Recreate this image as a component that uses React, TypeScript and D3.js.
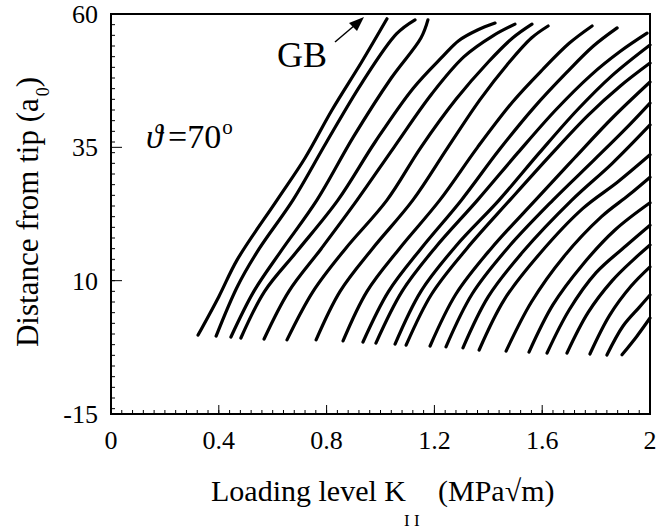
import React, { useRef, useEffect } from "react";
import * as d3 from "d3";

// crack front traces: [K_II (MPa√m), distance from tip (a0)]
const f01 = [[0.323, -0.2], [0.40, 7], [0.468, 13.9], [0.616, 25.1], [0.72, 33], [0.82, 42], [0.93, 51], [1.024, 59.1]];
const f02 = [[0.390, -0.4], [0.47, 9], [0.55, 16], [0.675, 25.1], [0.80, 36], [0.93, 47], [1.06, 56.3], [1.128, 58.9]];
const f03 = [[0.445, -0.56], [0.53, 8], [0.63, 15.5], [0.764, 25.1], [0.90, 37], [1.04, 48], [1.15, 55.5], [1.176, 58.9]];
const f04 = [[0.482, -0.75], [0.57, 8], [0.69, 15.5], [0.842, 25.1], [0.98, 36], [1.12, 46], [1.23, 52], [1.29, 55], [1.36, 57], [1.425, 58.3]];
const f05 = [[0.568, -0.94], [0.66, 8], [0.78, 16], [0.913, 25.1], [1.05, 35], [1.19, 45], [1.31, 52], [1.42, 56], [1.499, 58.1]];
const f06 = [[0.653, -1.1], [0.75, 8], [0.87, 16], [1.024, 25.1], [1.15, 35], [1.28, 44], [1.40, 51], [1.49, 55.5], [1.562, 58.1]];
const f07 = [[0.761, -1.1], [0.85, 8], [0.97, 16], [1.12, 25.1], [1.25, 35], [1.37, 44], [1.47, 50.5], [1.56, 55.5], [1.622, 57.75]];
const f08 = [[0.861, -1.3], [0.95, 8], [1.07, 16], [1.22, 25.1], [1.36, 35], [1.49, 43.5], [1.60, 49.5], [1.70, 54.5], [1.785, 57.75]];
const f09 = [[0.935, -1.5], [1.03, 8], [1.15, 16], [1.30, 25.1], [1.44, 34.5], [1.57, 42.5], [1.69, 49], [1.79, 54], [1.878, 57.4]];
const f10 = [[0.983, -1.7], [1.08, 8], [1.20, 16], [1.36, 25.1], [1.51, 34], [1.65, 42], [1.78, 48.5], [1.89, 53], [1.989, 56.4]];
const f11 = [[1.054, -1.9], [1.15, 8], [1.28, 16.5], [1.44, 25.1], [1.59, 34], [1.73, 42], [1.86, 48.5], [2.0, 54.2]];
const f12 = [[1.095, -2.1], [1.19, 7.5], [1.32, 16], [1.48, 25.1], [1.63, 33.5], [1.77, 41], [1.89, 46.5], [2.0, 50.8]];
const f13 = [[1.184, -2.25], [1.28, 7.5], [1.41, 16], [1.575, 25.1], [1.72, 33], [1.86, 40.5], [2.0, 47.25]];
const f14 = [[1.243, -2.4], [1.34, 7.5], [1.47, 16], [1.64, 25.1], [1.79, 32.5], [1.91, 38.5], [2.0, 43.3]];
const f15 = [[1.306, -2.6], [1.40, 7], [1.53, 15.5], [1.71, 25.1], [1.86, 32], [2.0, 39.2]];
const f16 = [[1.366, -3.0], [1.46, 6.5], [1.59, 15], [1.75, 23.5], [1.88, 28.5], [2.0, 33.6]];
const f17 = [[1.466, -3.2], [1.56, 6], [1.68, 14.5], [1.82, 22], [1.92, 26], [2.0, 29.4]];
const f18 = [[1.551, -3.4], [1.64, 5.5], [1.75, 13], [1.87, 19.5], [2.0, 24.6]];
const f19 = [[1.618, -3.56], [1.70, 4.5], [1.80, 11.5], [1.91, 16.5], [2.0, 20.4]];
const f20 = [[1.692, -3.56], [1.77, 4], [1.86, 10], [1.94, 14], [2.0, 16.7]];
const f21 = [[1.777, -3.75], [1.85, 3.5], [1.93, 9], [2.0, 12.6]];
const f22 = [[1.840, -3.94], [1.90, 1.5], [1.96, 5], [2.0, 7.3]];
const f23 = [[1.896, -3.9], [1.95, -0.5], [2.0, 3.0]];
const fronts = [f01, f02, f03, f04, f05, f06, f07, f08, f09, f10, f11, f12, f13, f14, f15, f16, f17, f18, f19, f20, f21, f22, f23];

const xTicks = [0, 0.4, 0.8, 1.2, 1.6, 2];
const yTicks = [-15, 10, 35, 60];

const FONT = "'Liberation Serif', 'DejaVu Serif', serif";

export default function App() {
  const ref = useRef<SVGSVGElement>(null);
  const width = 656;
  const height = 529;

  useEffect(() => {
    document.body.style.margin = "0";
    const svg = d3.select(ref.current);
    svg.selectAll("*").remove();

    const x = d3.scaleLinear().domain([0, 2]).range([111, 650]);
    const y = d3.scaleLinear().domain([-15, 60]).range([414, 14]);

    // fronts
    const line = d3.line<number[]>()
      .x(d => x(d[0]))
      .y(d => y(d[1]))
      .curve(d3.curveCatmullRom.alpha(0.5));

    svg.append("g")
      .selectAll("path")
      .data(fronts)
      .join("path")
      .attr("d", d => line(d))
      .attr("fill", "none")
      .attr("stroke", "#000")
      .attr("stroke-width", 3.2)
      .attr("stroke-linecap", "round")
      .attr("stroke-linejoin", "round");

    // minor ticks
    const g = svg.append("g").attr("stroke", "#000").attr("stroke-width", 1);
    g.selectAll("line.xm")
      .data(d3.range(0, 51).map(i => i * 0.04))
      .join("line")
      .attr("x1", d => x(d)).attr("x2", d => x(d))
      .attr("y1", y(-15)).attr("y2", y(-15) - 4);
    g.selectAll("line.ym")
      .data(d3.range(-14, 61, 2))
      .join("line")
      .attr("y1", d => y(d)).attr("y2", d => y(d))
      .attr("x1", x(0)).attr("x2", x(0) + 4);

    // major ticks
    g.selectAll("line.xM")
      .data(xTicks)
      .join("line")
      .attr("x1", d => x(d)).attr("x2", d => x(d))
      .attr("y1", y(-15)).attr("y2", y(-15) - 9);
    g.selectAll("line.yM")
      .data(yTicks)
      .join("line")
      .attr("y1", d => y(d)).attr("y2", d => y(d))
      .attr("x1", x(0)).attr("x2", x(0) + 11);

    // frame
    svg.append("rect")
      .attr("x", x(0)).attr("y", y(60))
      .attr("width", x(2) - x(0)).attr("height", y(-15) - y(60))
      .attr("fill", "none").attr("stroke", "#000").attr("stroke-width", 2);

    // tick labels
    svg.append("g")
      .selectAll("text")
      .data(xTicks)
      .join("text")
      .attr("x", d => x(d))
      .attr("y", 449)
      .attr("text-anchor", "middle")
      .attr("font-family", FONT)
      .attr("font-size", 26)
      .text(d => String(d));

    svg.append("g")
      .selectAll("text")
      .data(yTicks)
      .join("text")
      .attr("x", 98)
      .attr("y", d => y(d) + 9)
      .attr("text-anchor", "end")
      .attr("font-family", FONT)
      .attr("font-size", 26)
      .text(d => String(d));

    // axis titles
    svg.append("text")
      .attr("x", 211).attr("y", 501)
      .attr("font-family", FONT)
      .attr("font-size", 30)
      .text("Loading level K");
    svg.append("text")
      .attr("x", 404).attr("y", 526)
      .attr("font-family", FONT)
      .attr("font-size", 17)
      .text("I I");
    svg.append("text")
      .attr("x", 438).attr("y", 501)
      .attr("font-family", FONT)
      .attr("font-size", 30)
      .text("(MPa√m)");

    const yt = svg.append("text")
      .attr("transform", "translate(38,212) rotate(-90)")
      .attr("text-anchor", "middle")
      .attr("font-family", FONT)
      .attr("font-size", 31);
    yt.append("tspan").text("Distance from tip (a");
    yt.append("tspan").attr("font-size", 18).attr("dy", 11).attr("dx", 2).text("0");
    yt.append("tspan").attr("dy", -11).text(")");

    // annotations
    svg.append("text")
      .attr("x", 277).attr("y", 67)
      .attr("font-family", FONT)
      .attr("font-size", 36)
      .text("GB");

    svg.append("line")
      .attr("x1", 335).attr("y1", 42)
      .attr("x2", 355).attr("y2", 25)
      .attr("stroke", "#000").attr("stroke-width", 1.5);
    svg.append("path")
      .attr("d", "M364,17 L349,23 L357,31 Z")
      .attr("fill", "#000");

    const th = svg.append("text")
      .attr("y", 148)
      .attr("font-family", FONT)
      .attr("font-size", 34);
    th.append("tspan").attr("x", 146).attr("font-style", "italic").text("ϑ");
    th.append("tspan").attr("x", 168).text("=70");
    th.append("tspan").attr("font-size", 21).attr("dy", -14).attr("dx", 1).text("o");
  }, []);

  return <svg ref={ref} width={width} height={height} style={{ display: "block", background: "#fff" }} />;
}
